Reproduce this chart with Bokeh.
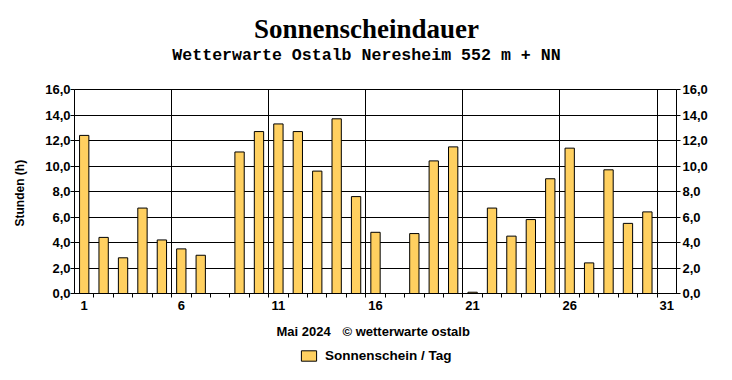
from bokeh.plotting import figure
from bokeh.layouts import column
from bokeh.models import (FixedTicker, LinearAxis, Range1d, Legend, LegendItem,
                          CustomJSTickFormatter, ColumnDataSource)
from bokeh.core.properties import value
from bokeh.embed import file_html
from bokeh.resources import INLINE

days = list(range(1, 32))
sunshine = [12.4, 4.4, 2.8, 6.7, 4.2, 3.5, 3.0, 0.0, 11.1, 12.7,
            13.3, 12.7, 9.6, 13.7, 7.6, 4.8, 0.0, 4.7, 10.4, 11.5,
            0.1, 6.7, 4.5, 5.8, 9.0, 11.4, 2.4, 9.7, 5.5, 6.4, 0.0]
x_labels = [1, 6, 11, 16, 21, 26, 31]
y_ticks = [0, 2, 4, 6, 8, 10, 12, 14, 16]
title_text = "Sonnenscheindauer"
subtitle_text = "Wetterwarte Ostalb Neresheim 552 m + NN"
month_text = "Mai 2024"
copyright_text = "\u00a9 wetterwarte ostalb"
series_name = "Sonnenschein / Tag"

FONT = "Liberation Sans"
BAR_FILL = "#FFD060"
W = 716
LEFT, RIGHT = 74, 40   # frame borders shared by all stacked figures


def blank(height, y0, y1):
    # page-pixel coordinate system; frame is aligned with the main chart's frame
    f = figure(width=W, height=height, output_backend="svg", toolbar_location=None,
               x_range=Range1d(LEFT, W - RIGHT), y_range=Range1d(y1, y0),
               x_axis_type=None, y_axis_type=None, min_border=0,
               min_border_left=LEFT, min_border_right=RIGHT)
    f.outline_line_color = None
    f.background_fill_color = "white"
    f.border_fill_color = "white"
    return f


# ---- header ----
top = blank(80, 0, 80)
top.text(x=[366], y=[28], text=[title_text], text_align="center",
         text_baseline="middle", text_font=value("Liberation Serif"),
         text_font_style="bold", text_font_size="27px", text_color="black")
top.text(x=[366], y=[55], text=[subtitle_text], text_align="center",
         text_baseline="middle", text_font=value("Liberation Mono"),
         text_font_style="bold", text_font_size="16.6px", text_color="black")

# ---- main chart ----
p = figure(width=W, height=238, output_backend="svg", toolbar_location=None,
           x_range=Range1d(0.5, 31.5), y_range=Range1d(0, 16),
           min_border_left=LEFT, min_border_right=RIGHT, min_border_top=9,
           min_border_bottom=25)
p.outline_line_color = "black"
p.background_fill_color = "white"
p.border_fill_color = "white"

src = ColumnDataSource(dict(x=days, top=sunshine))
r = p.vbar(x="x", top="top", width=0.48, bottom=0, source=src,
           fill_color=BAR_FILL, line_color="black", line_width=1)

fmt = CustomJSTickFormatter(code="return tick.toFixed(1).replace('.', ',');")

ya = p.yaxis[0]
ya.ticker = FixedTicker(ticks=y_ticks)
ya.formatter = fmt
ya.axis_label = "Stunden  (h)"
ya.axis_label_text_font = FONT
ya.axis_label_text_font_style = "bold"
ya.axis_label_text_font_size = "12px"
ya.axis_label_text_color = "black"
ya.axis_label_standoff = 15
ya.major_label_text_font = FONT
ya.major_label_text_font_style = "bold"
ya.major_label_text_font_size = "13px"
ya.major_label_text_color = "black"
ya.major_tick_in = 0
ya.major_tick_out = 4
ya.minor_tick_line_color = None
ya.major_label_standoff = 0

ra = LinearAxis(ticker=FixedTicker(ticks=y_ticks), formatter=fmt)
ra.major_label_text_font = FONT
ra.major_label_text_font_style = "bold"
ra.major_label_text_font_size = "13px"
ra.major_label_text_color = "black"
ra.major_tick_in = 0
ra.major_tick_out = 4
ra.minor_tick_line_color = None
ra.major_label_standoff = 2
p.add_layout(ra, "right")

xa = p.xaxis[0]
xa.ticker = FixedTicker(ticks=x_labels, minor_ticks=[d + 0.5 for d in days[:-1]])
xa.major_tick_line_color = None
xa.major_tick_in = 0
xa.major_tick_out = 0
xa.minor_tick_in = 0
xa.minor_tick_out = 4
xa.minor_tick_line_color = "black"
xa.major_label_text_font = FONT
xa.major_label_text_font_style = "bold"
xa.major_label_text_font_size = "13px"
xa.major_label_text_color = "black"
xa.major_label_standoff = 3

p.xgrid.ticker = FixedTicker(ticks=[5.5, 10.5, 15.5, 20.5, 25.5, 30.5])
p.xgrid.grid_line_color = "black"
p.ygrid.ticker = FixedTicker(ticks=y_ticks)
p.ygrid.grid_line_color = "black"

# ---- footer ----
bot = blank(46, 318, 364)
bot.text(x=[276], y=[331], text=[month_text], text_align="left",
         text_baseline="middle", text_font=value(FONT),
         text_font_style="bold", text_font_size="13px", text_color="black")
bot.text(x=[342], y=[331], text=[copyright_text], text_align="left",
         text_baseline="middle", text_font=value(FONT),
         text_font_style="bold", text_font_size="13px", text_color="black")
# legend swatch source: a zero-size placeholder bar (never visible)
dummy = bot.vbar(x=[LEFT], top=[318], bottom=[318], width=0,
                 fill_color=BAR_FILL, line_color="black")
legend = Legend(items=[LegendItem(label=series_name, renderers=[dummy])],
                location=(299 - LEFT, 1), padding=0, margin=0, spacing=0,
                glyph_width=19, glyph_height=13, label_height=13,
                label_standoff=7, label_text_font=FONT,
                label_text_font_style="bold", label_text_font_size="13.5px",
                label_text_color="black",
                background_fill_alpha=0, border_line_color=None)
bot.add_layout(legend)

layout = column(top, p, bot, spacing=0)
open("out.html", "w").write(file_html(layout, INLINE))
